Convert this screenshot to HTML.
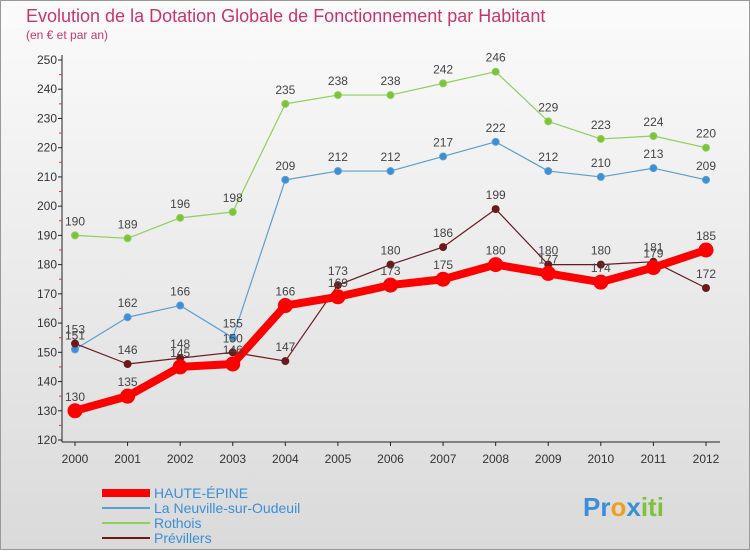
<!DOCTYPE html>
<html><head><meta charset="utf-8"><style>
body{margin:0;width:750px;height:550px;overflow:hidden;font-family:"Liberation Sans",sans-serif;}
</style></head><body>
<svg width="750" height="550">
<defs><linearGradient id="bg" x1="0" y1="0" x2="0" y2="1"><stop offset="0" stop-color="#fbfbfb"/><stop offset="1" stop-color="#dadada"/></linearGradient></defs>
<rect x="0.5" y="0.5" width="749" height="549" fill="url(#bg)" stroke="#999"/>
<text x="26" y="22" font-size="18" fill="#c8356e">Evolution de la Dotation Globale de Fonctionnement par Habitant</text>
<text x="26" y="39" font-size="12" fill="#c8356e">(en € et par an)</text>
<g id="axes"></g><g id="series"></g><g id="legend"></g>
<g font-size="26" font-weight="bold">
<text x="583" y="516"><tspan fill="#3a8fd8">Pr</tspan><tspan fill="#f0a020">o</tspan><tspan fill="#3a8fd8">x</tspan><tspan fill="#7cc23a">iti</tspan></text>
</g>
</svg>
<script>
const years=[2000,2001,2002,2003,2004,2005,2006,2007,2008,2009,2010,2011,2012];
const yTicks=[120,130,140,150,160,170,180,190,200,210,220,230,240,250];
const haute=[130,135,145,146,166,169,173,175,180,177,174,179,185];
const neuville=[151,162,166,155,209,212,212,217,222,212,210,213,209];
const rothois=[190,189,196,198,235,238,238,242,246,229,223,224,220];
const previllers=[153,146,148,150,147,173,180,186,199,180,180,181,172];
const NS="http://www.w3.org/2000/svg";
function X(i){return 75+i*(706-75)/12;}
function Y(v){return 440-(v-120)*(380/130);}
function mk(p,t,a){const e=document.createElementNS(NS,t);for(const k in a)e.setAttribute(k,a[k]);p.appendChild(e);return e;}
const ax=document.getElementById('axes');
const yl=mk(ax,'line',{x1:62,y1:55,x2:62,y2:442,stroke:'#222'});


const xl=mk(ax,'line',{x1:62,y1:442,x2:720,y2:442,stroke:'#222'});


yTicks.forEach(v=>{
 const t=mk(ax,'text',{x:57,y:Y(v)+4,'font-size':12,'text-anchor':'end',fill:'#333'});t.textContent=v;
 
 
 mk(ax,'line',{x1:58,x2:62,y1:Y(v),y2:Y(v),stroke:'#222'});
 if(v<250)mk(ax,'line',{x1:59,x2:62,y1:Y(v+5),y2:Y(v+5),stroke:'#e33'});
});
years.forEach((yr,i)=>{
 const t=mk(ax,'text',{x:X(i),y:463,'font-size':12,'text-anchor':'middle',fill:'#333'});t.textContent=yr;
 
 
 mk(ax,'line',{x1:X(i),x2:X(i),y1:442,y2:446,stroke:'#222'});
});
const sg=document.getElementById('series');
function draw(name,data,color,w,r,fill){
 const g=mk(sg,'g',{});
 
 
 mk(g,'polyline',{points:data.map((v,i)=>X(i)+','+Y(v)).join(' '),fill:'none',stroke:color,'stroke-width':w,'stroke-linejoin':'round'});
 data.forEach((v,i)=>{
  const c=mk(g,'circle',{cx:X(i),cy:Y(v),r:r,fill:fill,stroke:color,'stroke-width':1});
  
  
  const t=mk(g,'text',{x:X(i),y:Y(v)-10,'font-size':12,'text-anchor':'middle',fill:'#444'});t.textContent=v;
  
  
 });
}
draw('rothois',rothois,'#8ed05a',1.2,3.5,'#7cc23a');
draw('neuville',neuville,'#5a9ed0',1.2,3.5,'#3a8fd8');
draw('previllers',previllers,'#6b1a1a',1.2,3.5,'#6b1a1a');
draw('haute-epine',haute,'#ff0000',8,7,'#ff0000');
const lg=document.getElementById('legend');
[['HAUTE-ÉPINE','#ff0000',8],['La Neuville-sur-Oudeuil','#5a9ed0',2],['Rothois','#8ed05a',2],['Prévillers','#6b1a1a',2]].forEach((d,i)=>{
 const y=493+i*15;
 const g=mk(lg,'g',{});
 
 
 mk(g,'line',{x1:102,x2:150,y1:y,y2:y,stroke:d[1],'stroke-width':d[2]});
 const t=mk(g,'text',{x:154,y:y+5,'font-size':14,fill:'#3a8fd8'});t.textContent=d[0];
});
</script>
</body></html>
